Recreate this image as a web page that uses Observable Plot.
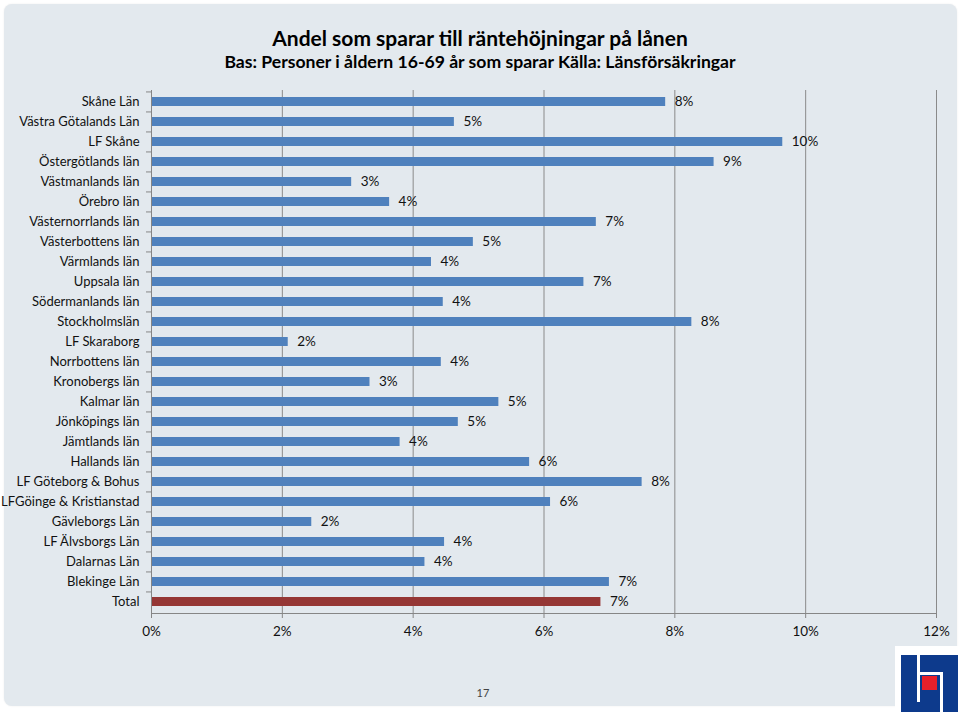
<!DOCTYPE html>
<html><head><meta charset="utf-8">
<script src="https://cdn.jsdelivr.net/npm/d3@7"></script>
<script src="https://cdn.jsdelivr.net/npm/@observablehq/plot@0.6"></script>
<style>
body{margin:0;background:#fff;width:960px;height:716px;position:relative;overflow:hidden;font-family:Lato,"Noto Sans",sans-serif;}
#panel{position:absolute;left:4px;top:4px;width:953px;height:702px;background:#e3e9ee;border-radius:8px;box-shadow:0 0 2px rgba(0,0,0,0.08);}
#title{position:absolute;top:25px;left:0;width:960px;text-align:center;font-weight:bold;font-size:21px;color:#000;}
#subtitle{position:absolute;top:51px;left:0;width:960px;text-align:center;font-weight:bold;font-size:17.6px;color:#000;}
#chart{position:absolute;left:0;top:80px;}
#chart svg{background:transparent;overflow:visible;}
#page{position:absolute;left:463px;width:40px;text-align:center;top:686px;font-size:11px;color:#444;}
#logo{position:absolute;left:895px;top:646px;width:65px;height:70px;background:#fff;}
#logo div{position:absolute;}
</style></head>
<body>
<div id="panel"></div>
<div id="title">Andel som sparar till räntehöjningar på lånen</div>
<div id="subtitle">Bas: Personer i åldern 16-69 år som sparar Källa: Länsförsäkringar</div>
<div id="chart"></div>
<div id="page">17</div>
<div id="logo">
  <div style="left:6px;top:9px;width:57px;height:57px;background:#0d3a8c;"></div>
  <div style="left:22px;top:9px;width:3px;height:47px;background:#fff;"></div>
  <div style="left:22px;top:26px;width:24px;height:3px;background:#fff;"></div>
  <div style="left:45px;top:26px;width:3px;height:40px;background:#fff;"></div>
  <div style="left:27px;top:30px;width:15px;height:14px;background:#e8202a;"></div>
</div>
<script>
const categories = ["Skåne Län","Västra Götalands Län","LF Skåne","Östergötlands län","Västmanlands län","Örebro län","Västernorrlands län","Västerbottens län","Värmlands län","Uppsala län","Södermanlands län","Stockholmslän","LF Skaraborg","Norrbottens län","Kronobergs län","Kalmar län","Jönköpings län","Jämtlands län","Hallands län","LF Göteborg & Bohus","LFGöinge & Kristianstad","Gävleborgs Län","LF Älvsborgs Län","Dalarnas Län","Blekinge Län","Total"];
const values = [0.0786,0.0463,0.0965,0.0860,0.0306,0.0364,0.0680,0.0492,0.0428,0.0661,0.0446,0.0826,0.0209,0.0443,0.0334,0.0531,0.0469,0.0380,0.0578,0.0750,0.0610,0.0245,0.0448,0.0418,0.0700,0.0687];
const xTicks = [0,0.02,0.04,0.06,0.08,0.10,0.12];
const xTickLabels = ["0%","2%","4%","6%","8%","10%","12%"];

const data = categories.map((name,i)=>({name, value: values[i]}));
const fmt = d3.format(".0%");

const chart = Plot.plot({
  width: 960,
  height: 580,
  marginLeft: 151,
  marginRight: 24,
  marginTop: 10,
  marginBottom: 47,
  style: {fontFamily: "Lato, 'Noto Sans', sans-serif", fontSize: "13px", color: "#111", background: "transparent"},
  x: {domain: [0, 0.12], ticks: xTicks},
  y: {domain: categories, paddingInner: 0.55, paddingOuter: 0.275},
  marks: [
    Plot.gridX(xTicks.slice(1), {stroke: "#8a8a8a", strokeOpacity: 1, strokeWidth: 1}),
    Plot.barX(data.filter(d=>d.name!=="Total"), {x: "value", y: "name", fill: "#4f81bd"}),
    Plot.barX(data.filter(d=>d.name==="Total"), {x: "value", y: "name", fill: "#953735"}),
    Plot.text(data, {x: "value", y: "name", text: d=>fmt(d.value), textAnchor: "start", dx: 9, fill: "#111", fontSize: 13.5}),
    Plot.ruleX([0], {stroke: "#868686"}),
    Plot.frame({anchor: "bottom", stroke: "#868686"}),
    Plot.axisX(xTicks, {tickSize: 5, tickPadding: 8, stroke: "#868686", tickFormat: (d,i)=>xTickLabels[xTicks.indexOf(d)], fill: "#111", fontSize: 13.5, label: null}),
    Plot.axisY({tickSize: 0, tickPadding: 12, fill: "#111", fontSize: 13, label: null}),
    Plot.axisY({tickSize: 5, text: null, dy: -10.06, stroke: "#868686", label: null})
  ]
});
document.getElementById("chart").appendChild(chart);
</script>
</body></html>
